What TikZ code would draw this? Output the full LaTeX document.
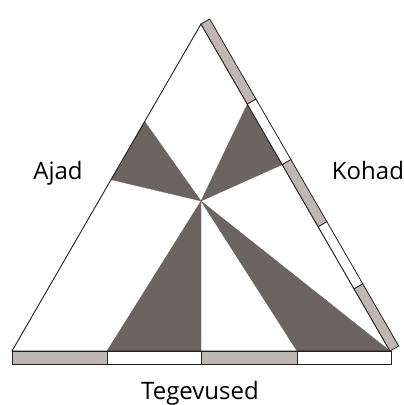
\documentclass[tikz,border=0pt]{standalone}
\usepackage{fontspec}
\setmainfont{Open Sans}
\usetikzlibrary{calc}
\definecolor{wedge}{RGB}{108,100,99}
\definecolor{barg}{RGB}{190,183,181}
\definecolor{edge}{RGB}{35,31,32}
\tikzset{
  wedgefill/.style={fill=wedge,draw=wedge,line width=0.3pt,line join=round},
  outline/.style={draw=edge,line width=0.9pt,line join=miter},
  bargray/.style={fill=barg,draw=edge,line width=0.8pt},
  barwhite/.style={fill=white,draw=edge,line width=0.8pt},
  lbl/.style={font=\fontsize{24}{28}\selectfont,text=black,inner sep=0pt}
}
\begin{document}
\begin{tikzpicture}[x=1pt,y=-1pt]
\useasboundingbox (0,0) rectangle (404,405);
\coordinate (A) at (201,24);
\coordinate (L) at (12,351);
\coordinate (R) at (390,351);
\coordinate (C) at (201,201);
% wedges
\fill[wedgefill] (C) -- ($(A)!0.298!(L)$) -- ($(A)!0.476!(L)$) -- cycle;
\fill[wedgefill] (C) -- ($(A)!0.245!(R)$) -- ($(A)!0.43!(R)$) -- cycle;
\fill[wedgefill] (C) -- (107,351) -- (201,351) -- cycle;
\fill[wedgefill] (C) -- (297,351) -- (R) -- cycle;
% triangle
\draw[outline] (A) -- (L) -- (R) -- cycle;
% right bar
\foreach \a/\b/\s in {0/0.245/bargray,0.245/0.43/barwhite,0.43/0.62/bargray,0.62/0.81/barwhite,0.81/1/bargray}{
  \draw[\s] ($(A)!\a!(R)$) -- ($(A)!\b!(R)$) -- ($(A)!\b!(R)+(8.7,-5)$) -- ($(A)!\a!(R)+(8.7,-5)$) -- cycle;
}
% bottom bar
\draw[bargray] (12,351) rectangle (107,364);
\draw[barwhite] (107,351) rectangle (201,364);
\draw[bargray] (201,351) rectangle (297,364);
\draw[barwhite] (297,351) rectangle (391,364);
% labels
\node[lbl,anchor=base] (ajad) at (58,179) {Ajad};
\node[lbl,anchor=base] (kohad) at (368,179) {Kohad};
\node[lbl,anchor=base] (teg) at (200,399) {Tegevused};
\end{tikzpicture}
\end{document}
